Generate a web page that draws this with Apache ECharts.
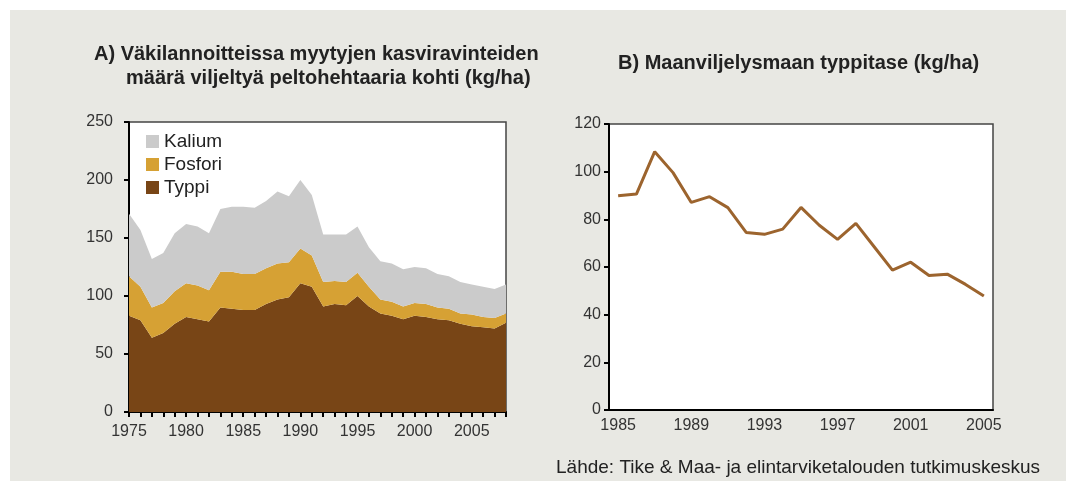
<!DOCTYPE html>
<html>
<head>
<meta charset="utf-8">
<script src="https://cdn.jsdelivr.net/npm/echarts@6/dist/echarts.min.js"></script>
<style>
  html,body{margin:0;padding:0;background:#fff;}
  #main{width:1066px;height:481px;}
</style>
</head>
<body>
<div id="main"></div>
<script>
// A) kasviravinteet (kg/ha), 1975-2008
var yearsA=[];
for(var y=1975;y<=2008;y++){ yearsA.push(String(y)); }
var typpi  =[83,79,64,68,76,82,80,78,90,89,88,88,93,97,99,111,108,91,93,92,100,91,85,83,80,83,82,80,79,76,74,73,72,77];
var fosfori=[34,29,26,26,28,29,29,27,31,32,31,31,31,31,30,30,27,21,20,20,20,17,12,12,11,11,11,10,10,9,10,9,9,8];
var kalium =[54,49,42,43,50,51,51,49,54,56,58,57,58,62,57,59,52,41,40,41,40,34,33,33,32,31,31,29,28,27,26,26,25,25];

// B) typpitase (kg/ha), 1985-2005
var yearsB=[];
for(var y2=1985;y2<=2005;y2++){ yearsB.push(String(y2)); }
var typpitase=[89.9,90.6,108.4,99.6,87.1,89.5,84.9,74.5,73.7,75.9,85,77.5,71.6,78.3,68.5,58.7,62,56.4,57,52.7,47.8];

var font="'Liberation Sans', Arial, sans-serif";

function areaSeries(name,data,color){
    return {
        name:name,
        type:'line',
        stack:'ravinteet',
        xAxisIndex:0,
        yAxisIndex:0,
        symbol:'none',
        lineStyle:{width:0},
        areaStyle:{color:color,opacity:1},
        itemStyle:{color:color},
        data:data
    };
}

var myChart=echarts.init(document.getElementById('main'));
var option={
    backgroundColor:'#ffffff',
    animation:false,
    graphic:[{
        type:'rect',
        z:-10,
        shape:{x:10,y:10,width:1056,height:471},
        style:{fill:'#e8e8e3'}
    }],
    title:[
        {text:'A) Väkilannoitteissa myytyjen kasviravinteiden',left:94,top:44,padding:0,
            textStyle:{fontFamily:font,fontSize:20,fontWeight:'bold',color:'#222'}},
        {text:'määrä viljeltyä peltohehtaaria kohti (kg/ha)',left:126,top:68,padding:0,
            textStyle:{fontFamily:font,fontSize:20,fontWeight:'bold',color:'#222'}},
        {text:'B) Maanviljelysmaan typpitase (kg/ha)',left:618,top:53,padding:0,
            textStyle:{fontFamily:font,fontSize:20,fontWeight:'bold',color:'#222'}},
        {text:'Lähde: Tike & Maa- ja elintarviketalouden tutkimuskeskus',left:556,top:458,padding:0,
            textStyle:{fontFamily:font,fontSize:19,fontWeight:'normal',color:'#222'}}
    ],
    legend:{
        data:['Kalium','Fosfori','Typpi'],
        orient:'vertical',
        left:146,
        top:132,
        padding:0,
        itemWidth:13,
        itemHeight:13,
        itemGap:4,
        icon:'rect',
        textStyle:{fontFamily:font,fontSize:19,color:'#222'}
    },
    grid:[
        {left:129,top:122,width:377,height:290,show:true,backgroundColor:'#fff',borderColor:'#444',borderWidth:1.5},
        {left:609,top:124,width:384,height:286,show:true,backgroundColor:'#fff',borderColor:'#444',borderWidth:1.5}
    ],
    xAxis:[
        {
            type:'category',gridIndex:0,data:yearsA,boundaryGap:false,
            axisLine:{lineStyle:{color:'#000',width:2}},
            axisTick:{interval:0,length:5,lineStyle:{color:'#000',width:2}},
            axisLabel:{interval:4,margin:12,fontFamily:font,fontSize:16,color:'#333'}
        },
        {
            type:'category',gridIndex:1,data:yearsB,boundaryGap:true,
            axisLine:{lineStyle:{color:'#000',width:2}},
            axisTick:{interval:0,length:5,lineStyle:{color:'#000',width:2}},
            axisLabel:{interval:3,margin:8,fontFamily:font,fontSize:16,color:'#333'}
        }
    ],
    yAxis:[
        {
            type:'value',gridIndex:0,min:0,max:250,interval:50,
            splitLine:{show:false},
            axisLine:{show:true,lineStyle:{color:'#000',width:2}},
            axisTick:{show:true,length:5,lineStyle:{color:'#000',width:2}},
            axisLabel:{margin:16,fontFamily:font,fontSize:16,color:'#333'}
        },
        {
            type:'value',gridIndex:1,min:0,max:120,interval:20,
            splitLine:{show:false},
            axisLine:{show:true,lineStyle:{color:'#000',width:2}},
            axisTick:{show:true,length:5,lineStyle:{color:'#000',width:2}},
            axisLabel:{margin:8,fontFamily:font,fontSize:16,color:'#333'}
        }
    ],
    series:[
        areaSeries('Typpi',typpi,'#784516'),
        areaSeries('Fosfori',fosfori,'#d6a134'),
        areaSeries('Kalium',kalium,'#cbcbcb'),
        {
            name:'Typpitase',
            type:'line',
            xAxisIndex:1,
            yAxisIndex:1,
            symbol:'none',
            lineStyle:{color:'#9c642e',width:3},
            data:typpitase
        }
    ]
};
myChart.setOption(option);
</script>
</body>
</html>
